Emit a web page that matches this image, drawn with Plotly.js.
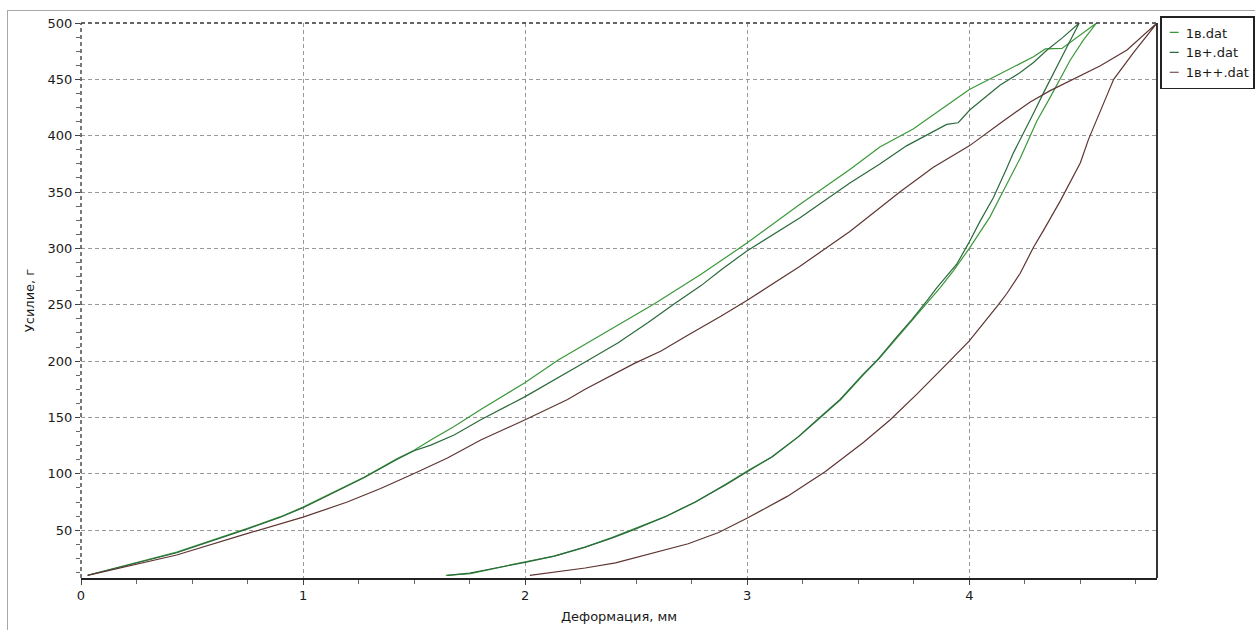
<!DOCTYPE html>
<html>
<head>
<meta charset="utf-8">
<script src="https://cdn.plot.ly/plotly-3.0.1.min.js"></script>
<style>
  html, body { margin: 0; padding: 0; background: #ffffff; width: 1255px; height: 630px; overflow: hidden; }
  #frame { position: absolute; left: 7px; top: 10px; width: 1248px; height: 620px;
           border-top: 1px solid #a8a8a8; border-left: 1px solid #a8a8a8; }
  #chart { position: absolute; left: 0; top: 0; width: 1247px; height: 619px; }
</style>
</head>
<body>
<div id="frame"><div id="chart"></div></div>
<script>
// ---- data ----
var seriesNames = ['1в.dat', '1в+.dat', '1в++.dat'];

// 1в.dat : loading then unloading
var s1LoadX = [0.03, 0.235, 0.431, 0.747, 0.898, 1.0, 1.123, 1.274, 1.424, 1.5, 1.575, 1.68, 1.8, 2.0, 2.149, 2.27, 2.407, 2.582, 2.792, 3.0, 3.236, 3.462, 3.597, 3.747, 3.92, 4.0, 4.139, 4.229, 4.289, 4.342, 4.417, 4.573];
var s1LoadY = [10, 20.5, 30.5, 51.5, 62, 70.5, 82.5, 97, 113.5, 121, 130, 142, 157, 181, 201, 215, 231, 251, 277, 305, 339, 370, 390, 406, 430, 441, 455, 464, 470, 477, 477.5, 500];
var s1UnloadX = [4.573, 4.514, 4.454, 4.409, 4.364, 4.304, 4.274, 4.229, 4.184, 4.139, 4.093, 4.003, 3.928, 3.868, 3.815, 3.747, 3.679, 3.593, 3.524, 3.421, 3.318, 3.232, 3.112, 3.003, 2.905, 2.768, 2.631, 2.493, 2.39, 2.27, 2.132, 2.0, 1.875, 1.754, 1.643];
var s1UnloadY = [500, 485, 467, 450, 434, 413, 400, 380, 363, 346, 328, 301, 280, 265, 253, 237, 222, 202, 188, 166, 148, 133, 115, 103, 91, 75, 62, 51, 43.5, 35, 27, 22, 17, 11.5, 10];

// 1в+.dat
var s2LoadX = [0.03, 0.235, 0.431, 0.747, 0.898, 1.0, 1.123, 1.274, 1.424, 1.5, 1.575, 1.68, 1.8, 2.0, 2.251, 2.417, 2.552, 2.672, 2.792, 2.883, 3.0, 3.236, 3.462, 3.597, 3.717, 3.898, 3.95, 4.003, 4.139, 4.229, 4.289, 4.35, 4.42, 4.495];
var s2LoadY = [10, 20, 30, 51, 61.5, 70, 82, 96.5, 113, 120.5, 125.5, 134.5, 148, 168.5, 197, 216, 234, 251, 267, 281, 298, 327, 358, 375, 391, 410, 411.5, 423, 445, 456, 465, 476, 487, 500];
var s2UnloadX = [4.495, 4.44, 4.387, 4.334, 4.289, 4.244, 4.199, 4.168, 4.139, 4.108, 4.048, 3.995, 3.943, 3.853, 3.807, 3.742, 3.675, 3.59, 3.52, 3.418, 3.315, 3.23, 3.11, 3.0, 2.9, 2.765, 2.63, 2.49, 2.39, 2.27, 2.13, 2.0, 1.875, 1.75, 1.65];
var s2UnloadY = [500, 479, 459, 438, 420, 402, 385, 371, 358, 345, 324, 304, 286, 265, 253, 237, 222, 202, 188, 166, 148, 133, 115, 102, 90, 75, 62, 50.5, 43, 35, 27, 21.5, 17, 12, 10];

// 1в++.dat
var s3LoadX = [0.03, 0.235, 0.431, 0.747, 0.898, 1.0, 1.199, 1.349, 1.5, 1.65, 1.8, 2.0, 2.191, 2.27, 2.492, 2.612, 2.732, 2.883, 3.0, 3.236, 3.462, 3.597, 3.687, 3.838, 4.0, 4.139, 4.274, 4.364, 4.469, 4.59, 4.71, 4.845];
var s3LoadY = [10, 19, 28, 47, 55.7, 61.6, 75, 87, 100.3, 114, 130, 148, 166, 175, 198, 209, 223, 240, 254, 284, 315, 336, 350, 372, 391, 411, 430, 440, 450, 462, 476, 500];
var s3UnloadX = [4.845, 4.74, 4.65, 4.62, 4.575, 4.537, 4.5, 4.44, 4.409, 4.334, 4.289, 4.229, 4.169, 4.13, 4.0, 3.911, 3.765, 3.644, 3.524, 3.352, 3.18, 3.003, 2.871, 2.734, 2.562, 2.407, 2.27, 2.132, 2.021];
var s3UnloadY = [500, 474, 450, 436, 415, 397, 376, 354, 342, 316, 301, 278, 260, 250, 218, 200, 171, 148, 128, 102, 80, 61, 48, 38, 29, 21, 16.5, 12.6, 10];

var xTickVals = [0, 1, 2, 3, 4];
var xTickText = ['0', '1', '2', '3', '4'];
var yTickVals = [50, 100, 150, 200, 250, 300, 350, 400, 450, 500];
var yTickText = ['50', '100', '150', '200', '250', '300', '350', '400', '450', '500'];

var xTitle = 'Деформация, мм';
var yTitle = 'Усилие, г';

// ---- styling ----
var colors = ['#3a983a', '#2b6a3c', '#5e3532'];
var FONT = 'DejaVu Sans, Verdana, sans-serif';
var TXT = '#1a1a1a';

function trace(lx, ly, ux, uy, name, color) {
  return {
    x: lx.concat(ux), y: ly.concat(uy),
    type: 'scatter', mode: 'lines', name: name,
    line: { color: color, width: 1.2 }
  };
}

var data = [
  trace(s1LoadX, s1LoadY, s1UnloadX, s1UnloadY, seriesNames[0], colors[0]),
  trace(s2LoadX, s2LoadY, s2UnloadX, s2UnloadY, seriesNames[1], colors[1]),
  trace(s3LoadX, s3LoadY, s3UnloadX, s3UnloadY, seriesNames[2], colors[2])
];

var xMax = Math.max.apply(null, s3LoadX);
var yMin = 7.6, yMax = 500;

var layout = {
  width: 1247, height: 619,
  margin: { l: 73, r: 98, t: 12, b: 52, pad: 0, autoexpand: false },
  paper_bgcolor: '#ffffff', plot_bgcolor: '#ffffff',
  font: { family: FONT, size: 13, color: TXT },
  showlegend: true,
  legend: {
    x: 1.003, xanchor: 'left', y: 1.0126, yanchor: 'top',
    bgcolor: '#ffffff', bordercolor: '#222222', borderwidth: 1.5,
    font: { family: FONT, size: 13, color: TXT },
    itemwidth: 30, tracegroupgap: 0
  },
  xaxis: {
    range: [0, xMax], tickmode: 'array', tickvals: xTickVals, ticktext: xTickText,
    ticks: 'outside', ticklen: 5, tickcolor: '#444', tickwidth: 1,
    showgrid: true, gridcolor: '#9a9a9a', griddash: '4px,3px', gridwidth: 1,
    zeroline: false, showline: true, linecolor: '#222', linewidth: 1.5,
    tickfont: { family: FONT, size: 13, color: TXT },
    minor: { dtick: 0.25, tick0: 0, ticks: 'outside', ticklen: 4, tickcolor: '#666', showgrid: false },
    title: { text: xTitle, font: { family: FONT, size: 13, color: TXT }, standoff: 10 },
    automargin: false
  },
  yaxis: {
    range: [yMin, yMax], tickmode: 'array', tickvals: yTickVals, ticktext: yTickText,
    ticks: 'outside', ticklen: 5, tickcolor: '#444', tickwidth: 1,
    showgrid: true, gridcolor: '#9a9a9a', griddash: '4px,3px', gridwidth: 1,
    zeroline: false, showline: false,
    tickfont: { family: FONT, size: 13, color: TXT },
    minor: { dtick: 12.5, tick0: 0, ticks: 'outside', ticklen: 4, tickcolor: '#666', showgrid: false },
    title: { text: yTitle, font: { family: FONT, size: 13, color: TXT }, standoff: 10 },
    automargin: false
  },
  shapes: [
    { type: 'line', xref: 'paper', yref: 'paper', x0: 0, x1: 1, y0: 1, y1: 1,
      line: { color: '#333', width: 1.3, dash: '4px,3px' }, layer: 'above' },
    { type: 'line', xref: 'paper', yref: 'paper', x0: 0, x1: 0, y0: 0, y1: 1,
      line: { color: '#333', width: 1.3, dash: '4px,3px' }, layer: 'above' },
    { type: 'line', xref: 'paper', yref: 'paper', x0: 1, x1: 1, y0: 0, y1: 1,
      line: { color: '#333', width: 2 }, layer: 'above' }
  ]
};

Plotly.newPlot('chart', data, layout, { displayModeBar: false, staticPlot: true }).then(function (gd) {
  // compact legend like the reference: short line samples, narrow box
  var leg = gd.querySelector('.legend');
  if (!leg) return;
  leg.querySelectorAll('.legendlines path').forEach(function (p) { p.setAttribute('d', 'M8,0h9'); });
  leg.querySelectorAll('text.legendtext').forEach(function (t) { t.setAttribute('x', '24'); });
  var bg = leg.querySelector('rect.bg');
  if (bg) bg.setAttribute('width', '93');
});
</script>
</body>
</html>
